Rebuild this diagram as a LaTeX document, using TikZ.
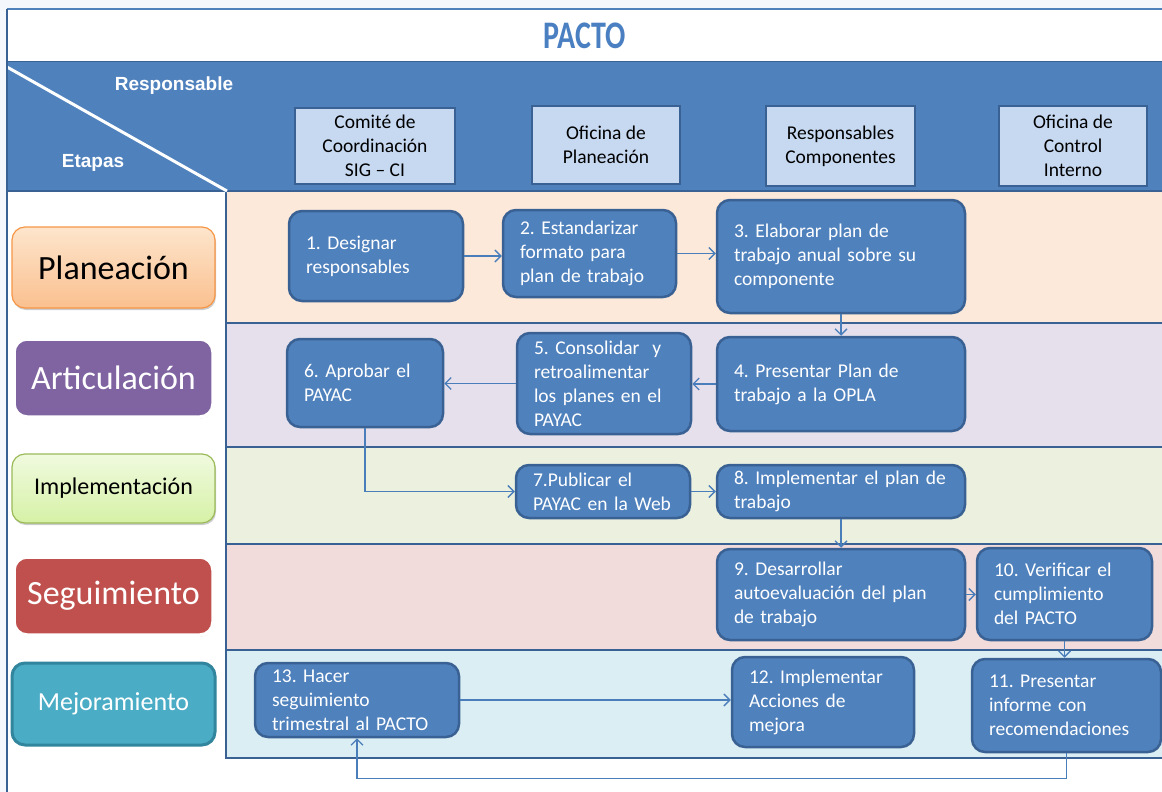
\documentclass[tikz,border=0pt]{standalone}
\usepackage{fontspec}
\setmainfont{Carlito}
\newfontfamily\arialfont{Liberation Sans}
\usetikzlibrary{arrows.meta,shadows}
\frenchspacing

\definecolor{hblue}{HTML}{4F81BD}
\definecolor{dkblue}{HTML}{3A6193}
\definecolor{colfill}{HTML}{C6D9F1}
\definecolor{laneA}{HTML}{FDE9D9}
\definecolor{laneB}{HTML}{E5E0EC}
\definecolor{laneC}{HTML}{EBF1DE}
\definecolor{laneD}{HTML}{F2DCDB}
\definecolor{laneE}{HTML}{DBEEF3}
\definecolor{connblue}{HTML}{4A7EBB}
\definecolor{titleblue}{HTML}{4A7FC1}
\definecolor{orangeT}{HTML}{FDE5CC}
\definecolor{orangeB}{HTML}{FAC08F}
\definecolor{orangeL}{HTML}{F79646}
\definecolor{greenT}{HTML}{F0FADF}
\definecolor{greenB}{HTML}{D6F1A6}
\definecolor{greenL}{HTML}{9BBB59}
\definecolor{purp}{HTML}{8064A2}
\definecolor{redc}{HTML}{C0504D}
\definecolor{tealc}{HTML}{4BACC6}
\definecolor{tealL}{HTML}{31859C}
\definecolor{pagebg}{HTML}{F4F8FC}

\tikzset{
  lane/.style={draw=dkblue, line width=2.5pt},
  pbox/.style={draw=dkblue, line width=2.5pt, fill=hblue, rounded corners=13pt,
    text=white, font=\frenchspacing\fontsize{19.5}{24}\selectfont, align=left,
    inner xsep=17pt, inner ysep=0pt},
  cbox/.style={draw=dkblue, line width=2pt, fill=colfill, text=black,
    font=\fontsize{19.5}{24}\selectfont, align=center, inner sep=0pt},
  stage/.style={rounded corners=13pt, inner sep=0pt},
  hdrtxt/.style={font=\arialfont\bfseries\fontsize{19}{19}\selectfont, text=white},
  conn/.style={connblue, line width=1.3pt, -{Straight Barb[length=6pt,width=12pt]}}
}

\begin{document}
\begin{tikzpicture}[x=1pt,y=-1pt]
\clip (0,0) rectangle (1162,792);
\fill[pagebg] (0,0) rectangle (1162,792);
\fill[white] (7,9) rectangle (1162,792);

% title
\node[font=\bfseries\fontsize{30}{30}\selectfont, text=titleblue, yscale=1.3] (title) at (585,36) {PACTO};

% header band
\draw[fill=hblue, draw=dkblue, line width=1pt] (7,62) rectangle (1175,191);

% lanes
\draw[lane, fill=laneA] (226,191) rectangle (1175,323);
\draw[lane, fill=laneB] (226,323) rectangle (1175,447);
\draw[lane, fill=laneC] (226,447) rectangle (1175,544);
\draw[lane, fill=laneD] (226,544) rectangle (1175,650);
\draw[lane, fill=laneE] (226,650) rectangle (1175,758);

\draw[dkblue, line width=2.5pt] (7,191) -- (1175,191);
\draw[white, line width=3pt] (7,67) -- (227,191);

% frame
\draw[hblue, line width=2pt] (7,9) -- (1175,9);
\draw[dkblue, line width=2.5pt] (7,9) -- (7,800);

% header texts
\node[hdrtxt] (resp) at (174,86) {Responsable};
\node[hdrtxt] (etap) at (93,163) {Etapas};

% column headers
\node[cbox, minimum width=160pt, minimum height=76pt] (c1) at (375,146) {Comité de\\Coordinación\\SIG -- CI};
\node[cbox, minimum width=148pt, minimum height=78pt] (c2) at (606,145) {Oficina de\\Planeación};
\node[cbox, minimum width=149pt, minimum height=80pt] (c3) at (840.5,146) {Responsables\\Componentes};
\node[cbox, minimum width=148pt, minimum height=80pt] (c4) at (1073,146) {Oficina de\\Control\\Interno};

% stage labels
\node[stage, top color=orangeT, bottom color=orangeB, draw=orangeL, line width=1.2pt,
  minimum width=203pt, minimum height=81pt, font=\fontsize{34}{34}\selectfont, text=black,
  drop shadow={shadow xshift=1pt, shadow yshift=-2pt, fill=black, opacity=0.2}] (s1) at (113.5,267.5) {Planeación};
\node[stage, fill=purp, draw=white, line width=3.5pt,
  minimum width=199pt, minimum height=78pt, font=\fontsize{34}{34}\selectfont, text=white,
  drop shadow={shadow xshift=0.5pt, shadow yshift=-1.5pt, fill=black, opacity=0.2}] (s2) at (113.5,378) {Articulación};
\node[stage, top color=greenT, bottom color=greenB, draw=greenL, line width=1.2pt,
  minimum width=203pt, minimum height=69pt, font=\fontsize{24}{24}\selectfont, text=black,
  drop shadow={shadow xshift=1pt, shadow yshift=-2pt, fill=black, opacity=0.2}] (s3) at (113.5,488.5) {Implementación};
\node[stage, fill=redc, draw=white, line width=3.5pt,
  minimum width=199pt, minimum height=78pt, font=\fontsize{34}{34}\selectfont, text=white,
  drop shadow={shadow xshift=0.5pt, shadow yshift=-1.5pt, fill=black, opacity=0.2}] (s4) at (113.5,596) {Seguimiento};
\node[stage, fill=tealc, draw=tealL, line width=3pt,
  minimum width=203pt, minimum height=82pt, font=\fontsize{26}{26}\selectfont, text=white] (s5) at (113.5,704) {Mejoramiento};

% process boxes
\node[pbox, minimum width=174pt, minimum height=90pt, text width=140pt] (b1) at (376,256) {1. Designar\\responsables};
\node[pbox, minimum width=173pt, minimum height=87pt, text width=139pt] (b2) at (589.5,253.5) {2. Estandarizar\\formato para\\plan de trabajo};
\node[pbox, minimum width=248pt, minimum height=113pt, text width=214pt] (b3) at (841,256.5) {3. Elaborar plan de\\trabajo anual sobre su\\componente};
\node[pbox, minimum width=248pt, minimum height=94pt, text width=214pt] (b4) at (841,384) {4. Presentar Plan de\\trabajo a la OPLA};
\node[pbox, minimum width=174pt, minimum height=101pt, text width=140pt] (b5) at (604,383.5) {5. Consolidar\ \ y\\retroalimentar\\los planes en el\\PAYAC};
\node[pbox, minimum width=156pt, minimum height=88pt, text width=122pt] (b6) at (365,383) {6. Aprobar el\\PAYAC};
\node[pbox, minimum width=174pt, minimum height=53pt, text width=140pt] (b7) at (603,491.5) {7.Publicar el\\PAYAC en la Web};
\node[pbox, minimum width=248pt, minimum height=53pt, text width=214pt] (b8) at (841,491.5) {8. Implementar el plan de\\trabajo};
\node[pbox, minimum width=248pt, minimum height=91pt, text width=214pt] (b9) at (841,594.5) {9. Desarrollar\\autoevaluación del plan\\de trabajo};
\node[pbox, minimum width=175pt, minimum height=92pt, text width=141pt] (b10) at (1064.5,594) {10. Verificar el\\cumplimiento\\del PACTO};
\node[pbox, minimum width=189pt, minimum height=93pt, text width=155pt] (b11) at (1066.5,705.5) {11. Presentar\\informe con\\recomendaciones};
\node[pbox, minimum width=182pt, minimum height=90pt, text width=148pt] (b12) at (823,702) {12. Implementar\\Acciones de\\mejora};
\node[pbox, minimum width=204pt, minimum height=74pt, text width=170pt] (b13) at (357,700) {13. Hacer\\seguimiento\\trimestral al PACTO};

% connectors
\draw[conn] (b1.east) -- (b1.east -| b2.west);
\draw[conn] (b2.east) -- (b2.east -| b3.west);
\draw[conn] (b3.south) -- (b4.north);
\draw[conn] (b4.west) -- (b4.west -| b5.east);
\draw[conn] (b5.west) -- (b5.west -| b6.east);
\draw[conn] (b6.south) |- (b7.west);
\draw[conn] (b7.east) -- (b7.east -| b8.west);
\draw[conn] (b8.south) -- (b9.north);
\draw[conn] (b9.east) -- (b9.east -| b10.west);
\draw[conn] (b10.south) -- (b10.south |- b11.north);
\draw[conn] (b11.south) -- ++(0,25) -| (b13.south);
\draw[conn] (b13.east) -- (b13.east -| b12.west);
\end{tikzpicture}
\end{document}
